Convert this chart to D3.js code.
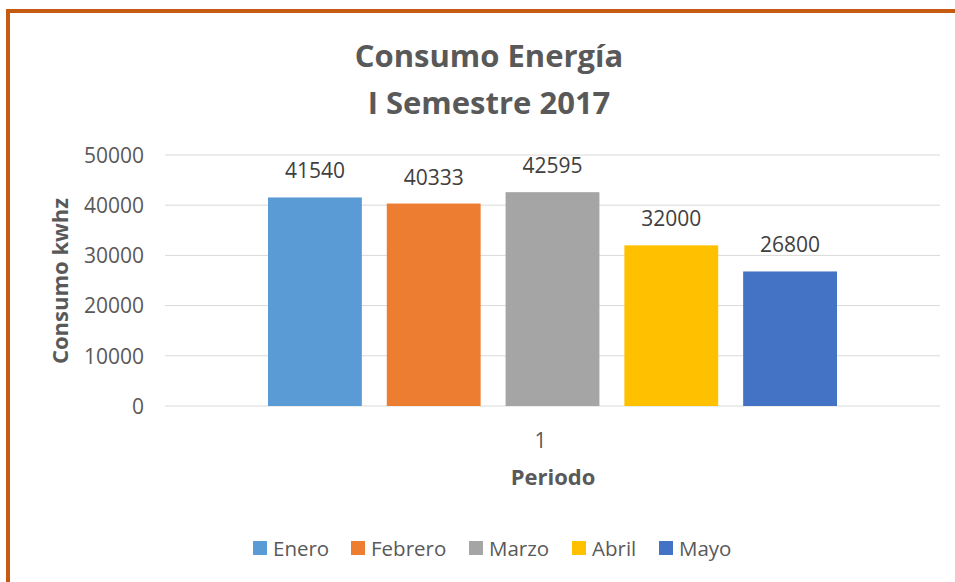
<!DOCTYPE html>
<html>
<head>
<meta charset="utf-8">
<script src="https://cdn.jsdelivr.net/npm/d3@7"></script>
<style>
  body { margin: 0; background: #fff; }
  text { font-family: "Open Sans", sans-serif; }
</style>
</head>
<body>
<div id="chart"></div>
<script>
// data
var categories = ["1"];
var months = ["Enero", "Febrero", "Marzo", "Abril", "Mayo"];
var consumo = [41540, 40333, 42595, 32000, 26800];
var colors = ["#5B9BD5", "#ED7D31", "#A5A5A5", "#FFC000", "#4472C4"];
var yTicks = [0, 10000, 20000, 30000, 40000, 50000];

var width = 955,
    height = 582;

var svg = d3.select("#chart").append("svg")
  .attr("width", width)
  .attr("height", height);

svg.append("rect").attr("width", width).attr("height", height).attr("fill", "#fff");

// chart frame (right and bottom sides are out of the picture)
svg.append("path")
  .attr("d", "M8," + height + " V11 H" + (width + 10))
  .attr("fill", "none")
  .attr("stroke", "#C55A11")
  .attr("stroke-width", 4);

var plot = { left: 165, right: 940, top: 155, bottom: 406 };

var y = d3.scaleLinear().domain([0, 50000]).range([plot.bottom, plot.top]);
var x0 = d3.scaleBand().domain(categories).range([plot.left, plot.right]);
var x1 = d3.scaleBand().domain(months).range([268, 837]).paddingInner(0.21);

// gridlines
svg.append("g").selectAll("line")
  .data(yTicks).enter().append("line")
  .attr("x1", plot.left).attr("x2", plot.right)
  .attr("y1", function(d) { return y(d); })
  .attr("y2", function(d) { return y(d); })
  .attr("stroke", "#D9D9D9")
  .attr("stroke-width", 1);

// y axis labels
var yAxis = d3.axisLeft(y).tickValues(yTicks).tickSize(0).tickPadding(0).tickFormat(d3.format("d"));
var gy = svg.append("g").attr("transform", "translate(144,0)").call(yAxis);
gy.select(".domain").remove();
gy.selectAll("text")
  .attr("fill", "#595959")
  .style("font-size", "21px")
  .attr("dy", "0.35em");

// x axis label
var xAxis = d3.axisBottom(x0).tickSize(0).tickPadding(0);
var gx = svg.append("g").attr("transform", "translate(-12,448)").call(xAxis);
gx.select(".domain").remove();
gx.selectAll("text")
  .attr("fill", "#595959")
  .style("font-size", "21px")
  .attr("dy", "0");

// bars
svg.append("g").selectAll("rect")
  .data(consumo).enter().append("rect")
  .attr("x", function(d, i) { return x1(months[i]); })
  .attr("width", x1.bandwidth())
  .attr("y", function(d) { return y(d); })
  .attr("height", function(d) { return plot.bottom - y(d); })
  .attr("fill", function(d, i) { return colors[i]; });

// data labels
svg.append("g").selectAll("text")
  .data(consumo).enter().append("text")
  .attr("x", function(d, i) { return x1(months[i]) + x1.bandwidth() / 2; })
  .attr("y", function(d) { return y(d) - 19; })
  .attr("text-anchor", "middle")
  .attr("fill", "#404040")
  .style("font-size", "21px")
  .text(function(d) { return d; });

// title
svg.append("text")
  .attr("x", 489).attr("y", 67)
  .attr("text-anchor", "middle")
  .attr("fill", "#595959")
  .style("font-size", "31px").style("font-weight", "bold")
  .text("Consumo Energía");
svg.append("text")
  .attr("x", 489).attr("y", 114)
  .attr("text-anchor", "middle")
  .attr("fill", "#595959")
  .style("font-size", "31px").style("font-weight", "bold")
  .text("I Semestre 2017");

// axis titles
svg.append("text")
  .attr("transform", "translate(68,281) rotate(-90)")
  .attr("text-anchor", "middle")
  .attr("fill", "#595959")
  .style("font-size", "22px").style("font-weight", "bold")
  .text("Consumo kwhz");
svg.append("text")
  .attr("x", 553).attr("y", 485)
  .attr("text-anchor", "middle")
  .attr("fill", "#595959")
  .style("font-size", "22px").style("font-weight", "bold")
  .text("Periodo");

// legend
var legendX = [253, 351, 469, 572, 659];
var legend = svg.append("g").selectAll("g")
  .data(months).enter().append("g")
  .attr("transform", function(d, i) { return "translate(" + legendX[i] + ",541)"; });
legend.append("rect")
  .attr("width", 14).attr("height", 14)
  .attr("fill", function(d, i) { return colors[i]; });
legend.append("text")
  .attr("x", 20).attr("y", 15)
  .attr("fill", "#595959")
  .style("font-size", "20.5px")
  .text(function(d) { return d; });
</script>
</body>
</html>
